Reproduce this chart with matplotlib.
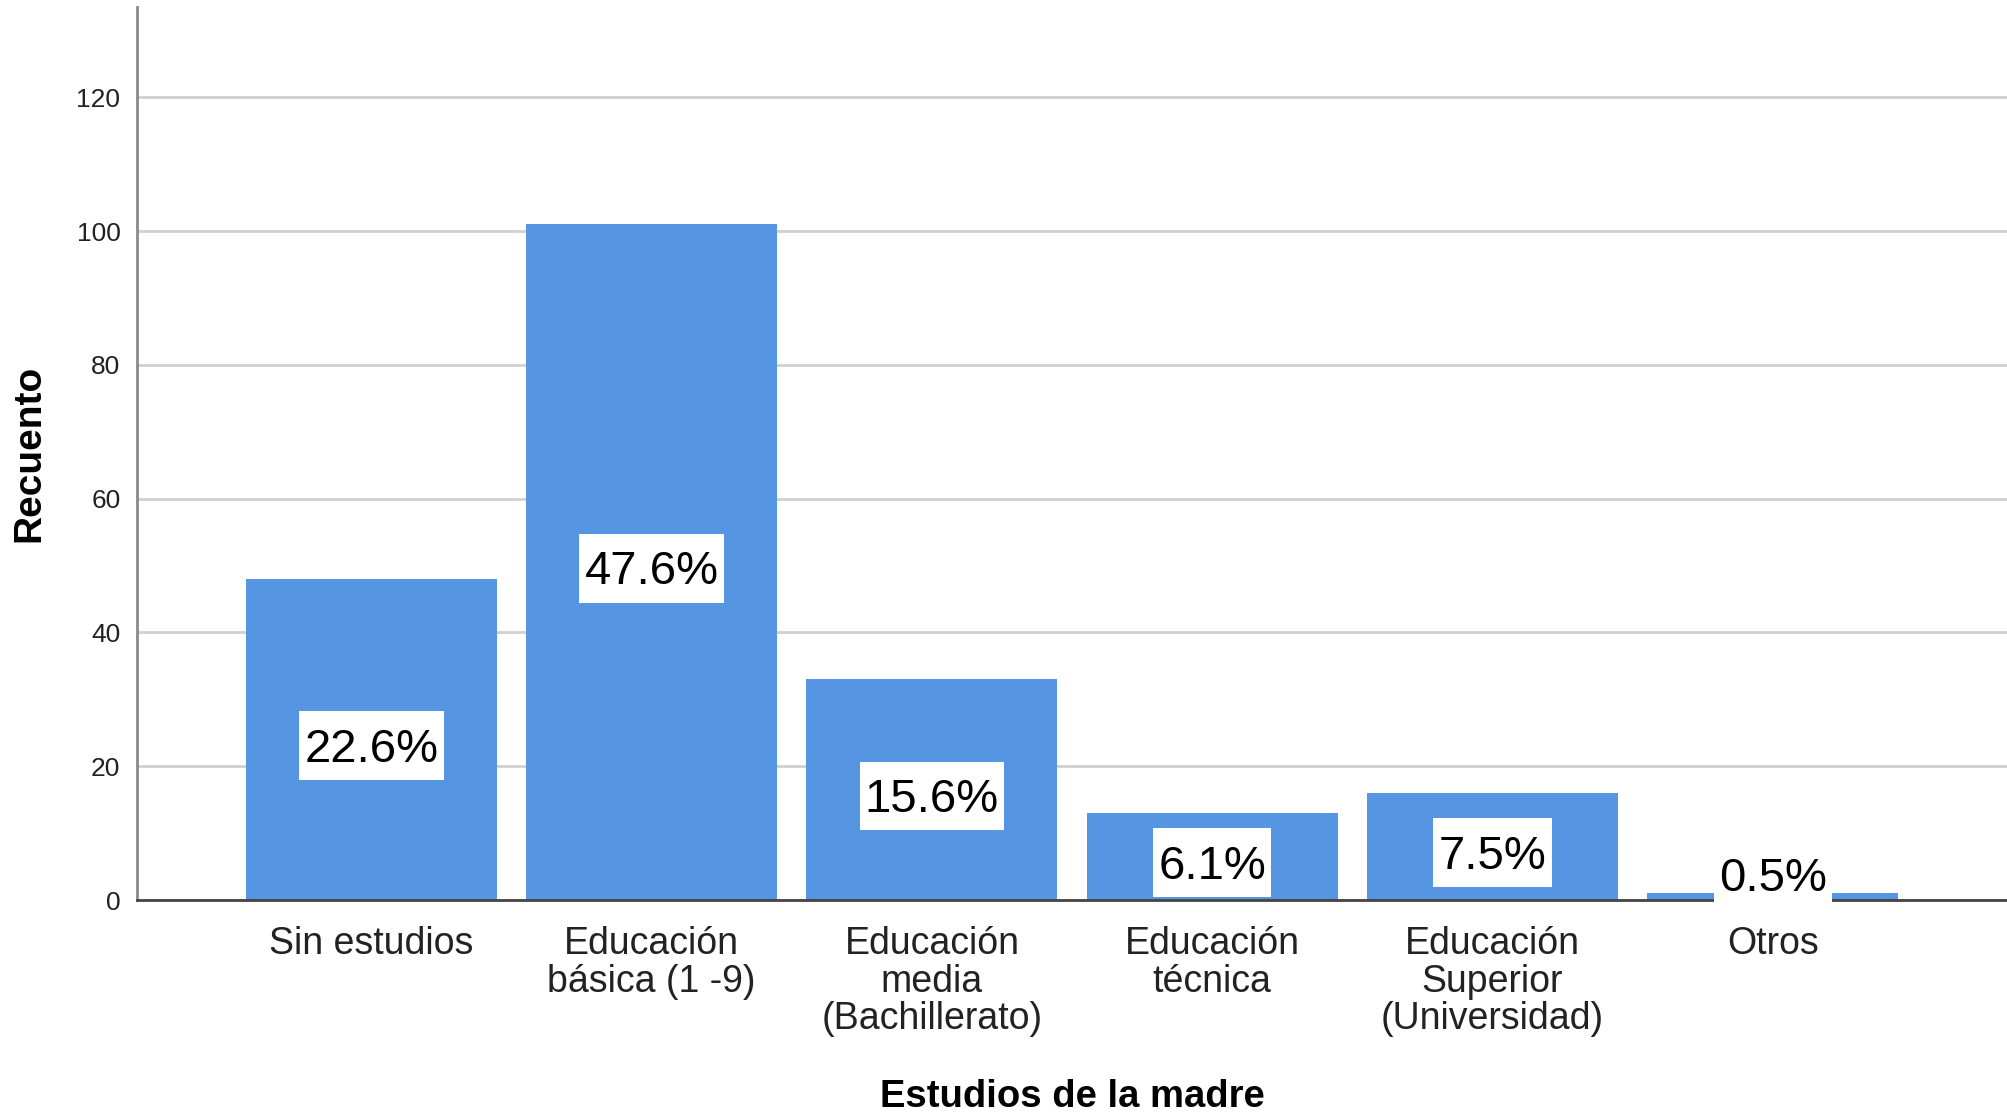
import numpy as np
import matplotlib
matplotlib.use("Agg")
import matplotlib.pyplot as plt
from matplotlib.path import Path

# Data
categories = ["Sin estudios", "Educación\nbásica (1 -9)", "Educación\nmedia\n(Bachillerato)",
              "Educación\ntécnica", "Educación\nSuperior\n(Universidad)", "Otros"]
counts = [48, 101, 33, 13, 16, 1]
percent_labels = ["22.6%", "47.6%", "15.6%", "6.1%", "7.5%", "0.5%"]
yticks = [0, 20, 40, 60, 80, 100, 120]

plt.rcParams['font.family'] = ['Liberation Sans', 'DejaVu Sans']


# white label box, taller than the text, digits centred in it
def label_box(x0, y0, width, height, mutation_size):
    padx = 0.11 * mutation_size
    pad_top = 0.345 * mutation_size
    pad_bottom = 0.175 * mutation_size
    x1 = x0 + width + padx
    y1 = y0 + height + pad_top
    x0 = x0 - padx
    y0 = y0 - pad_bottom
    return Path([(x0, y0), (x1, y0), (x1, y1), (x0, y1), (x0, y0)], closed=True)


fig = plt.figure(figsize=(20.07, 11.16), dpi=100)
ax = fig.add_axes([0.0683, 0.1935, 0.9317, 0.8002])

x = np.arange(len(categories))
bar_color = "#5595E2"
ax.bar(x, counts, width=0.895, color=bar_color, zorder=2)

# percentage labels in white boxes, centered in each bar
for xi, c, lab in zip(x, counts, percent_labels):
    ypos = max(c / 2, 4.6)
    ax.annotate(lab, (xi, ypos), xytext=(0, -7.3), textcoords="offset points",
                ha="center", va="center", fontsize=34, color="black",
                bbox=dict(boxstyle=label_box, facecolor="white", edgecolor="none"),
                zorder=3)

ax.set_xlim(-0.836, 5.836)
ax.set_ylim(0, 133.5)
ax.set_xticks(x)
ax.set_xticklabels(categories, fontsize=27, linespacing=1.065, color="#222222")
ax.set_yticks(yticks)
ax.set_yticklabels([str(t) for t in yticks], fontsize=19, color="#222222")
ax.tick_params(axis="x", length=0, pad=18.5)
ax.tick_params(axis="y", length=0, pad=12)

ax.grid(axis="y", color="#d0d0d0", linewidth=2, zorder=0)
ax.set_axisbelow(True)

for s in ["top", "right"]:
    ax.spines[s].set_visible(False)
ax.spines["left"].set_color("#8a8a8a")
ax.spines["left"].set_linewidth(2)
ax.spines["bottom"].set_color("#444444")
ax.spines["bottom"].set_linewidth(2)

ax.set_xlabel("Estudios de la madre", fontsize=27.5, fontweight="bold", labelpad=30)
ax.set_ylabel("Recuento", fontsize=28, fontweight="bold", labelpad=21)

fig.savefig("out.png", dpi=100)
